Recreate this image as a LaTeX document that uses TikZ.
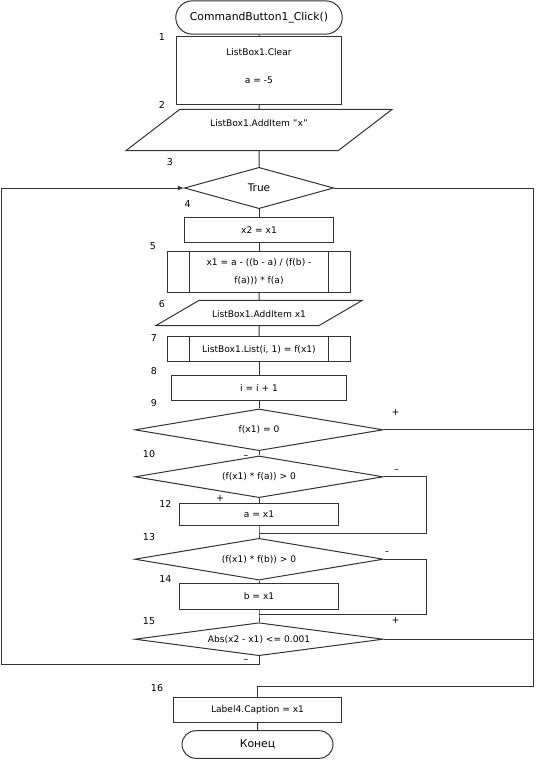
\documentclass[tikz,border=0pt]{standalone}
\usepackage{fontspec}
\setmainfont{DejaVu Sans}
\usetikzlibrary{shapes.geometric,shapes.misc,arrows.meta}

\tikzset{
  flow/.style={draw=black!80, line width=1pt},
  blk/.style={flow, inner sep=0pt, align=center, font=\fontsize{9.1}{17.7}\selectfont},
  term/.style={blk, rounded rectangle, font=\fontsize{10.8}{13}\selectfont},
  proc/.style={blk, rectangle},
  subproc/.style={proc, path picture={
      \draw[flow] ([xshift=22pt]path picture bounding box.north west) -- ([xshift=22pt]path picture bounding box.south west)
                  ([xshift=-22pt]path picture bounding box.north east) -- ([xshift=-22pt]path picture bounding box.south east);}},
  io/.style={blk, trapezium, trapezium stretches body, trapezium left angle=#1, trapezium right angle=180-#1},
  cond/.style={blk, diamond, aspect=6},
  num/.style={inner sep=0pt, font=\fontsize{9.5}{11}\selectfont},
  sgn/.style={inner sep=0pt, font=\fontsize{9.5}{11}\selectfont}
}

\begin{document}
\begin{tikzpicture}[x=1pt, y=-1pt]
  \useasboundingbox (0,0) rectangle (541,768);

  % blocks
  \node[term, minimum width=166.5, minimum height=33.3] (0) at (259,17.5) {CommandButton1\_Click()};
  \node[proc, minimum width=164.5, minimum height=67] (1) at (259,70.5) {ListBox1.Clear\\[10.6pt]a = -5\\[-8.5pt]\mbox{}};
  \node[io=37.5, minimum width=266.3, text height=16.7pt, text depth=24.7pt] (2) at (259,130) {ListBox1.AddItem "x"};
  \node[cond, minimum width=149.2, minimum height=41.3, font=\fontsize{10.5}{13}\selectfont] (3) at (259,188) {True};
  \node[proc, minimum width=149.7, minimum height=24.6] (4) at (259,230) {x2 = x1};
  \node[subproc, minimum width=183.3, minimum height=41.3] (5) at (259,271.7) {x1 = a - ((b - a) / (f(b) -\\f(a))) * f(a)};
  \node[io=30.3, minimum width=206.6, text height=17.3pt, text depth=8.1pt] (6) at (259,313) {ListBox1.AddItem x1};
  \node[subproc, minimum width=183.3, minimum height=25.3] (7) at (259,349.3) {ListBox1.List(i, 1) = f(x1)};
  \node[proc, minimum width=175.2, minimum height=25] (8) at (259,388.2) {i = i + 1};
  \node[cond, minimum width=248.3, minimum height=41.7] (9) at (259,429.8) {f(x1) = 0};
  \node[cond, minimum width=248.3, minimum height=41.7] (10) at (259,476.8) {(f(x1) * f(a)) > 0};
  \node[proc, minimum width=158.6, minimum height=22] (12) at (259,514.7) {a = x1};
  \node[cond, minimum width=248.6, minimum height=41.7] (13) at (259,559.2) {(f(x1) * f(b)) > 0};
  \node[proc, minimum width=159, minimum height=25.7] (14) at (259,596.2) {b = x1};
  \node[cond, minimum width=248.3, minimum height=33] (15) at (259,639.2) {Abs(x2 - x1) <= 0.001};
  \node[proc, minimum width=168, minimum height=25] (16) at (257.5,710.2) {Label4.Caption = x1};
  \node[term, minimum width=151, minimum height=27.6] (17) at (257.5,744.5) {Конец};

  % block numbers
  \node[num] (n1) at (162,37.3) {1};
  \node[num] (n2) at (162,105) {2};
  \node[num] (n3) at (170,162) {3};
  \node[num] (n4) at (187.7,204.3) {4};
  \node[num] (n5) at (153,246) {5};
  \node[num] (n6) at (162,304.3) {6};
  \node[num] (n7) at (154,337.7) {7};
  \node[num] (n8) at (154,371) {8};
  \node[num] (n9) at (154,403.3) {9};
  \node[num] (n10) at (149,454.3) {10};
  \node[num] (n12) at (165.5,504) {12};
  \node[num] (n13) at (149,537.3) {13};
  \node[num] (n14) at (165.5,579.3) {14};
  \node[num] (n15) at (149,621) {15};
  \node[num] (n16) at (157,688.3) {16};

  % branch signs
  \node[sgn] (p9) at (395.5,412.3) {+};
  \node[sgn] (m9) at (246,456.7) {--};
  \node[sgn] (m10) at (396.6,470.7) {--};
  \node[sgn] (p10) at (220,498.7) {+};
  \node[sgn] (m13) at (387.2,553.3) {-};
  \node[sgn] (p13) at (395.5,620.3) {+};
  \node[sgn] (m15) at (246,661) {--};

  % joints
  \coordinate (j1) at (259,533.3);
  \coordinate (k1) at (426,533.3);
  \coordinate (j2) at (259,614.3);
  \coordinate (k2) at (426,614.3);
  \coordinate (lp) at (1.5,664);
  \coordinate (rp) at (533.3,686.7);

  \begin{scope}[flow]
    \draw (0) -- (1);
    \draw (1) -- (2);
    \draw (2) -- (3);
    \draw (3) -- (4);
    \draw (4) -- (5);
    \draw (5) -- (6);
    \draw (6) -- (7);
    \draw (7) -- (8);
    \draw (8) -- (9);
    \draw (9) -- (10);
    \draw (10) -- (12);
    \draw (12) -- (j1) -- (13);
    \draw (10.east) -| (k1) -- (j1);
    \draw (13) -- (14);
    \draw (14) -- (j2) -- (15);
    \draw (13.east) -| (k2) -- (j2);
    \draw[-{Latex[length=6pt,width=5pt]}] (15.south) |- (lp) |- (3.west);
    \draw (3.east) -| (rp) -| (16.north);
    \draw (9.east) -- (9.east -| rp);
    \draw (15.east) -- (15.east -| rp);
    \draw (16) -- (17);
  \end{scope}
\end{tikzpicture}
\end{document}
